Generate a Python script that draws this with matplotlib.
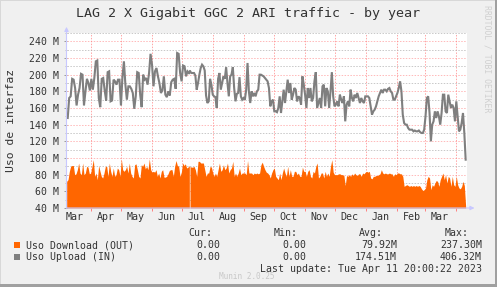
import matplotlib
matplotlib.use('Agg')
import matplotlib.pyplot as plt
import matplotlib.dates as mdates
from matplotlib.patches import Rectangle
from matplotlib.ticker import MultipleLocator, FuncFormatter, NullFormatter
import pandas as pd

plt.rcParams['font.family'] = ['DejaVu Sans Mono', 'DejaVu Sans']

# ---- data (values in M) ----
title = 'LAG 2 X Gigabit GGC 2 ARI traffic - by year'
ylabel = 'Uso de interfaz'

# upload (IN), first stretch Mar -> early Jul 2022
upload_spring = [
    148, 172, 174, 195, 194, 184, 163, 176, 184, 201,
    200, 163, 180, 195, 190, 181, 195, 182, 196, 216,
    217, 172, 161, 195, 196, 181, 169, 203, 204, 168,
    169, 194, 192, 188, 194, 194, 163, 197, 216, 188,
    170, 186, 186, 183, 178, 159, 174, 203, 202, 176,
    161, 200, 194, 196, 188, 202, 225, 212, 186, 204,
    208, 198, 190, 178, 181, 198, 176, 173, 180, 175,
    191, 194, 195, 183, 226, 225, 202, 192, 211, 210,
    198, 204, 202,
]
upload_spring_span = ('2022-03-09 01:00', '2022-07-08 08:00')

# upload (IN), Jul 2022 -> Apr 2023
upload_rest = [
    204, 202, 202, 202, 199, 182, 190, 200, 208, 212, 210, 205, 175,
    166, 168, 195, 188, 176, 174, 173, 160, 195, 202,
    182, 190, 198, 195, 209, 190, 174, 198, 200, 209,
    184, 168, 177, 178, 197, 174, 170, 172, 170, 182,
    214, 180, 166, 180, 174, 178, 174, 180, 182, 200,
    200, 199, 198, 196, 194, 192, 184, 162, 168, 170,
    156, 156, 155, 160, 174, 154, 168, 182, 166, 180,
    194, 178, 190, 170, 176, 184, 182, 168, 174, 172,
    164, 198, 188, 176, 160, 184, 172, 184, 168, 172,
    192, 203, 160, 166, 172, 160, 186, 188, 162, 184,
    180, 160, 180, 203, 174, 162, 164, 168, 162, 176,
    170, 166, 174, 144, 164, 168, 162, 182, 172, 168,
    176, 172, 178, 172, 166, 172, 168, 166, 174, 174,
    174, 172, 162, 152, 156, 158, 162, 168, 174, 178,
    182, 178, 182, 182, 180, 183, 184, 180, 178, 170,
    170, 174, 178, 184, 192, 180, 152, 142, 140, 140,
    136, 134, 134, 134, 132, 133, 132, 132, 133, 131,
    130, 130, 134, 150, 172, 174, 154, 120, 140, 144,
    156, 148, 156, 150, 140, 154, 176, 176, 156, 154,
    176, 168, 160, 164, 160, 144, 168, 150, 132, 134,
    142, 154, 130, 98,
]
upload_rest_span = ('2022-07-09 08:00', '2023-04-11 00:00')

# download (OUT), Mar -> early Jul 2022
download_spring = [
    72, 74, 84, 90, 91, 91, 80, 81, 86, 94,
    82, 80, 94, 80, 82, 90, 89, 81, 82, 90,
    98, 78, 82, 74, 91, 84, 78, 76, 82, 90,
    90, 78, 94, 84, 78, 88, 78, 80, 88, 86,
    78, 99, 86, 84, 86, 90, 82, 94, 82, 78,
    76, 92, 93, 86, 78, 76, 92, 90, 94, 87,
    90, 86, 99, 86, 83, 84, 83, 86, 78, 82,
    76, 84, 86, 77, 77, 78, 81, 85, 86, 86,
    78, 90, 97, 91, 90, 78, 83, 94, 91, 93,
    88, 89, 91,
]
download_spring_span = ('2022-03-08 00:00', '2022-07-08 16:00')

# download (OUT), Jul 2022 -> Apr 2023
download_rest = [
    90, 89, 89, 90, 86, 78,
    96, 96, 94, 94, 94, 86, 78, 82, 82, 90,
    89, 82, 78, 82, 78, 86, 94, 84, 86, 92,
    86, 88, 94, 82, 86, 88, 96, 78, 82, 78,
    82, 88, 80, 82, 82, 82, 80, 97, 82, 82,
    82, 80, 82, 81, 82, 81, 82, 92, 95, 90,
    86, 83, 82, 80, 76, 82, 86, 88, 78, 76,
    74, 82, 74, 82, 88, 82, 78, 90, 78, 86,
    78, 78, 84, 84, 80, 82, 78, 78, 89, 84,
    84, 78, 84, 86, 78, 76, 84, 82, 90, 94,
    76, 78, 82, 82, 76, 84, 78, 82, 78, 90,
    98, 83, 80, 80, 80, 81, 81, 80, 80, 79,
    67, 79, 78, 80, 78, 81, 79, 82, 80, 79,
    81, 81, 78, 82, 81, 83, 84, 83, 84, 76,
    75, 78, 78, 79, 79, 80, 81, 86, 82, 81,
    82, 81, 81, 82, 81, 81, 78, 81, 80, 82,
    82, 81, 81, 78, 66, 67, 68, 67, 66, 67,
    66, 67, 66, 67, 66, 67, 66, 63, 61, 62,
    64, 74, 78, 76, 62, 68, 66, 70, 73, 72,
    66, 74, 78, 82, 74, 80, 70, 78, 76, 66,
    78, 68, 66, 78, 68, 64, 63, 66, 72, 67,
    42,
]
download_rest_span = ('2022-07-09 08:00', '2023-04-11 00:00')

x_range = ('2022-03-07 20:00', '2023-04-11 20:00')
y_range = (40, 250)

legend_names = ['Uso Download (OUT)', 'Uso Upload (IN)']
stat_headers = ['Cur:', 'Min:', 'Avg:', 'Max:']
stat_rows = [
    ['0.00', '0.00', '79.92M', '237.30M'],
    ['0.00', '0.00', '174.51M', '406.32M'],
]
last_update = 'Last update: Tue Apr 11 20:00:22 2023'
version = 'Munin 2.0.25'
watermark = 'RRDTOOL / TOBI OETIKER'

ORANGE = '#ff6600'
GRAY = '#7f7f7f'
TXT = '#333333'

W, H = 497, 287


def fx(x):
    return x / W


def fy(y):
    return 1 - y / H


def dates(span, n):
    return pd.date_range(span[0], span[1], periods=n)


fig = plt.figure(figsize=(W / 100, H / 100), dpi=100, facecolor='#f0f0f0')
ax = fig.add_axes([fx(66.5), fy(208), 400 / W, 175 / H])
ax.set_facecolor('white')

# download area, then the upload line on top
for vals, span in [(download_spring, download_spring_span), (download_rest, download_rest_span)]:
    ax.fill_between(dates(span, len(vals)), y_range[0], vals, color=ORANGE, linewidth=0, zorder=2)
for vals, span in [(upload_spring, upload_spring_span), (upload_rest, upload_rest_span)]:
    ax.plot(dates(span, len(vals)), vals, color=GRAY, linewidth=1.5, zorder=3,
            solid_joinstyle='miter')
# join the two upload stretches
ax.plot(pd.to_datetime([upload_spring_span[1], upload_rest_span[0]]),
        [upload_spring[-1], upload_rest[0]], color=GRAY, linewidth=1.5, zorder=3)

ax.set_xlim(pd.Timestamp(x_range[0]), pd.Timestamp(x_range[1]))
ax.set_ylim(*y_range)

# axes look
for s in ax.spines.values():
    s.set_visible(False)

ax.yaxis.set_major_locator(MultipleLocator(20))
ax.yaxis.set_minor_locator(MultipleLocator(10))
ax.yaxis.set_major_formatter(FuncFormatter(lambda v, p: f'{int(v)} M'))
ax.xaxis.set_major_locator(mdates.MonthLocator())
ax.xaxis.set_major_formatter(NullFormatter())
ax.xaxis.set_minor_locator(mdates.MonthLocator(bymonthday=16))
ax.xaxis.set_minor_formatter(mdates.DateFormatter('%b'))

ax.tick_params(axis='y', which='major', length=2, width=0.7, color='#999999',
               labelsize=7.1, labelcolor=TXT, pad=3.5)
ax.tick_params(axis='y', which='minor', length=1.5, width=0.7, color='#bbbbbb')
ax.tick_params(axis='x', which='major', length=2, width=0.7, color='#ff8080')
ax.tick_params(axis='x', which='minor', length=0, labelsize=7.2, labelcolor=TXT, pad=3)

ax.xaxis.grid(True, which='major', color='#ff8080', alpha=0.7, linewidth=0.7,
              linestyle=(0, (1.5, 1.5)), zorder=1)
ax.yaxis.grid(True, which='major', color='#ff8080', alpha=0.55, linewidth=0.7,
              linestyle=(0, (1.5, 1.5)), zorder=1)
ax.yaxis.grid(True, which='minor', color='#b0b0b0', alpha=0.7, linewidth=0.7,
              linestyle=(0, (1.5, 1.5)), zorder=1)
ax.set_axisbelow(True)

# axis arrows
arrow = dict(arrowstyle='-|>', color='#c8c8ff', lw=0.8, mutation_scale=6,
             shrinkA=0, shrinkB=0)
ax.annotate('', xy=(0, 1.035), xytext=(0, 0), xycoords='axes fraction',
            arrowprops=arrow, annotation_clip=False, zorder=5)
ax.annotate('', xy=(1.02, 0), xytext=(0, 0), xycoords='axes fraction',
            arrowprops=arrow, annotation_clip=False, zorder=5)

# texts
fig.text(fx(248), fy(13), title, ha='center', va='center', fontsize=9.6, color=TXT)
fig.text(fx(11), fy(120), ylabel, ha='center', va='center', rotation=90,
         fontsize=8.2, color=TXT)
fig.text(fx(487), fy(59), watermark, ha='center', va='center', rotation=270,
         fontsize=5.9, color='#d0d0d0')

# legend block
hdr_right = [212, 298, 383, 469]
val_right = [220, 306, 397, 482]
for h, xr in zip(stat_headers, hdr_right):
    fig.text(fx(xr), fy(233), h, ha='right', va='center', fontsize=7.1, color=TXT)
for i, (name, color, row) in enumerate(zip(legend_names, [ORANGE, GRAY], stat_rows)):
    yc = 245 + 12 * i
    fig.patches.append(Rectangle((fx(14), fy(yc + 3)), 6 / W, 6 / H,
                                 transform=fig.transFigure, facecolor=color,
                                 edgecolor='none'))
    fig.text(fx(26.5), fy(yc), name, ha='left', va='center', fontsize=7.1, color=TXT)
    for v, xr in zip(row, val_right):
        fig.text(fx(xr), fy(yc), v, ha='right', va='center', fontsize=7.1, color=TXT)
fig.text(fx(482), fy(269), last_update, ha='right', va='center', fontsize=7.1, color=TXT)
fig.text(fx(247), fy(276.5), version, ha='center', va='center', fontsize=5.6, color='#c8c8c8')

# image border: light top/left, dark bottom/right
fig.patches.append(Rectangle((0, fy(1)), 1, 1 / H, transform=fig.transFigure,
                             facecolor='#d8d8d8', edgecolor='none'))
fig.patches.append(Rectangle((0, 0), 1 / W, 1, transform=fig.transFigure,
                             facecolor='#d8d8d8', edgecolor='none'))
fig.patches.append(Rectangle((0, 0), 1, 3 / H, transform=fig.transFigure,
                             facecolor='#a0a0a0', edgecolor='none'))
fig.patches.append(Rectangle((fx(495), 0), 2 / W, 1, transform=fig.transFigure,
                             facecolor='#a0a0a0', edgecolor='none'))

fig.savefig('out.png', dpi=100, facecolor=fig.get_facecolor())
